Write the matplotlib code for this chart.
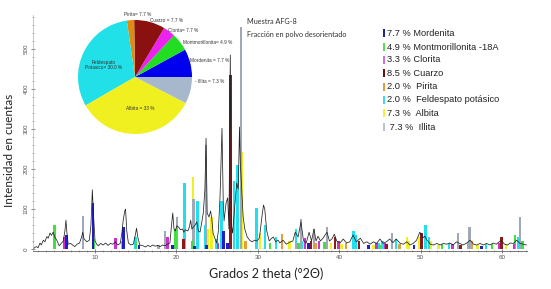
import matplotlib.pyplot as plt
from matplotlib.patches import Rectangle
from matplotlib.ticker import MultipleLocator

# black diffractogram (2theta, counts)
two_theta = [2.4, 2.6, 2.84, 3.0, 3.24, 3.4, 3.65, 3.85, 4.07, 4.25, 4.47, 4.65, 4.85, 5.05, 5.3,
             5.6, 5.85, 6.1, 6.3, 6.43, 6.55, 6.7, 7.0, 7.25, 7.5, 7.8, 8.1, 8.35, 8.5, 8.65,
             9.0, 9.3, 9.5, 9.67, 9.8, 10.0, 10.2, 10.4, 10.7, 11.0, 11.3, 11.6, 11.9, 12.2, 12.5,
             12.8, 13.1, 13.3, 13.45, 13.65, 13.75, 13.9, 14.1, 14.4, 14.7, 14.95, 15.1, 15.25, 15.5, 15.9,
             16.2, 16.5, 16.8, 17.1, 17.4, 17.7, 18.0, 18.3, 18.6, 18.9, 19.2, 19.4, 19.55, 19.7, 19.85,
             20.05, 20.25, 20.5, 20.75, 20.9, 21.1, 21.4, 21.6, 21.75, 21.9, 22.1, 22.3, 22.5, 22.7, 22.9,
             23.1, 23.3, 23.5, 23.64, 23.78, 24.0, 24.2, 24.35, 24.5, 24.75, 24.95, 25.15, 25.36, 25.6, 25.75,
             25.85, 26.1, 26.3, 26.45, 26.62, 26.75, 26.9, 27.2, 27.4, 27.6, 27.75, 27.85, 28.05, 28.2, 28.4,
             28.7, 29.0, 29.3, 29.6, 29.9, 30.2, 30.5, 30.7, 30.85, 31.1, 31.4, 31.6, 31.9, 32.2, 32.5,
             32.7, 33.1, 33.5, 34.0, 34.3, 34.6, 34.95, 35.3, 35.6, 35.95, 36.3, 36.6, 36.9, 37.15, 37.4,
             37.7, 38.0, 38.5, 38.8, 39.1, 39.4, 39.7, 40.1, 40.5, 40.9, 41.3, 41.7, 42.1, 42.6, 43.0,
             43.4, 43.8, 44.2, 44.6, 45.0, 45.4, 45.8, 46.2, 46.6, 47.0, 47.5, 47.9, 48.3, 48.7, 49.1,
             49.5, 49.9, 50.3, 50.5, 50.8, 51.2, 51.6, 52.0, 52.4, 52.8, 53.2, 53.6, 54.0, 54.4, 54.8,
             55.2, 55.6, 56.1, 56.5, 56.9, 57.3, 57.7, 58.1, 58.5, 58.9, 59.3, 59.9, 60.3, 60.7, 61.0,
             61.4, 61.8, 62.2, 62.6, 63.0]
counts = [0, 4, 6, 3, 15, 10, 22, 18, 31, 27, 40, 34, 42, 30, 22,
          8, 14, 20, 45, 72, 40, 12, 14, 10, 6, 12, 15, 30, 42, 25,
          18, 22, 60, 148, 90, 20, 12, 8, 14, 10, 15, 9, 14, 12, 18,
          10, 14, 40, 70, 95, 100, 45, 15, 10, 12, 35, 52, 30, 10, 8,
          5, 9, 6, 10, 7, 9, 6, 10, 8, 12, 15, 60, 90, 50, 45,
          58, 55, 48, 50, 42, 48, 45, 55, 72, 50, 55, 60, 68, 45, 42,
          65, 90, 150, 277, 90, 80, 95, 75, 40, 25, 15, 45, 131, 302, 120,
          70, 115, 128, 50, 485, 60, 40, 115, 165, 150, 305, 215, 140, 80, 50,
          30, 22, 18, 22, 20, 28, 80, 110, 100, 45, 20, 25, 30, 18, 22,
          15, 22, 12, 18, 20, 42, 30, 68, 22, 15, 42, 20, 50, 20, 32,
          20, 27, 42, 20, 25, 37, 20, 15, 25, 15, 18, 35, 18, 27, 14,
          18, 12, 18, 14, 25, 14, 18, 25, 16, 25, 14, 12, 18, 10, 14,
          22, 42, 28, 32, 22, 12, 10, 14, 10, 14, 12, 15, 10, 18, 14,
          10, 14, 22, 12, 10, 14, 10, 14, 10, 15, 12, 22, 12, 10, 15,
          14, 22, 14, 12, 10]

# identified phase peaks (position, height)
mordenita_pos = [6.5, 9.75, 13.5, 15.4, 19.5, 22.2, 23.7, 25.8, 26.3, 36.2, 43.6, 49.2, 57.5]
mordenita_h = [35, 115, 55, 10, 10, 8, 10, 45, 15, 15, 10, 10, 8]
montmor_pos = [5.0, 9.8, 15.0, 19.9, 22.0, 31.5, 35.0, 38.2, 45.0, 52.6, 58.8, 61.6, 62.5]
montmor_h = [60, 25, 20, 50, 20, 15, 15, 18, 10, 12, 12, 35, 20]
clorita_pos = [6.2, 12.5, 18.9, 25.1, 35.8, 37.5, 39.9, 44.6, 45.6, 53.9, 59.6, 61.5]
clorita_h = [30, 27, 30, 15, 28, 20, 20, 15, 15, 12, 15, 12]
cuarzo_pos = [20.85, 26.62, 36.5, 39.45, 42.4, 45.8, 50.1, 54.9, 59.95]
cuarzo_h = [25, 435, 20, 30, 20, 12, 40, 10, 30]
pirita_pos = [28.5, 33.0, 37.1, 40.8, 47.4, 56.3]
pirita_h = [20, 38, 15, 15, 12, 20]
feldk_pos = [13.4, 14.95, 21.0, 22.6, 23.5, 24.9, 25.55, 27.05, 27.5, 29.85, 30.85, 32.2, 34.7,
             35.5, 41.75, 42.0, 44.9, 45.3, 47.0, 50.6, 51.0, 53.5, 55.8, 58.0, 62.0]
feldk_h = [20, 30, 165, 120, 60, 25, 120, 170, 210, 102, 60, 30, 50,
           20, 45, 35, 15, 20, 25, 60, 30, 15, 15, 12, 30]
albita_pos = [22.05, 23.9, 24.3, 28.0, 30.3, 33.9, 35.7, 36.9, 39.0, 40.3, 42.3, 44.2, 48.3, 48.6,
              49.8, 51.3, 52.2, 57.0, 60.5]
albita_h = [180, 50, 80, 242, 40, 20, 25, 20, 15, 12, 20, 10, 30, 20,
            30, 20, 10, 10, 12]
illita_pos = [8.5, 17.8, 18.6, 20.1, 22.1, 23.64, 27.93, 34.9, 35.3, 36.9, 38.5, 46.5, 54.6, 56.0, 62.2]
illita_h = [82, 10, 45, 80, 125, 260, 555, 15, 75, 50, 55, 40, 40, 55, 80]

# pie
pie_values = [7.7, 4.9, 3.3, 8.5, 2.0, 30.0, 33.0, 7.3]
pie_colors = ['#0000ee', '#22dd22', '#ee22ee', '#8b1010', '#e08a10', '#22e0e8', '#f0f020', '#a8b8cc']
pie_labels = ['Mordenita = 7.7 %', 'Montmorillonita= 4.9 %', 'Clorita= 7.7 %', 'Cuarzo = 7.7 %',
              'Pirita= 7.7 %', 'Feldespato\nPotasico= 30.0 %', 'Albita = 33 %', '- Illita = 7.3 %']

# legend
legend_labels = ['7.7 % Mordenita', '4.9 % Montmorillonita -18A', '3.3 % Clorita', '8.5 % Cuarzo',
                 '2.0 %  Pirita', '2.0 %  Feldespato potásico', '7.3 %  Albita', ' 7.3 %  Illita']
legend_colors = ['#22229a', '#55dd55', '#d070d0', '#6b1010', '#e09a40', '#40d8ec', '#f5f040', '#b8c4d4']

W, H = 551, 289
fig = plt.figure(figsize=(W / 100, H / 100), dpi=100)


def fx(px):
    return px / W


def fy(py):
    return 1 - py / H


ax = fig.add_axes([fx(33), fy(251), (527 - 33) / W, (251 - 15) / H])

phases = [
    (feldk_pos, feldk_h, '#20e0f0'),
    (albita_pos, albita_h, '#f0f020'),
    (illita_pos, illita_h, '#a0a8b8'),
    (montmor_pos, montmor_h, '#40e040'),
    (clorita_pos, clorita_h, '#cc33cc'),
    (pirita_pos, pirita_h, '#e0a040'),
    (mordenita_pos, mordenita_h, '#1f1fc8'),
    (cuarzo_pos, cuarzo_h, '#8b1a1a'),
]
for pos, h, col in phases:
    ax.bar(pos, h, width=0.3, color=col, linewidth=0)

ax.plot(two_theta, counts, color='#222222', lw=0.55)

ax.set_xlim(2.38, 63.07)
ax.set_ylim(-5, 585)
for s in ['top', 'right']:
    ax.spines[s].set_visible(False)
ax.spines['left'].set_color('#b0b0b0')
ax.spines['left'].set_linewidth(0.5)
ax.spines['bottom'].set_color('#606060')
ax.spines['bottom'].set_linewidth(0.6)

ax.xaxis.set_major_locator(MultipleLocator(10))
ax.xaxis.set_minor_locator(MultipleLocator(1))
ax.yaxis.set_major_locator(MultipleLocator(100))
ax.yaxis.set_minor_locator(MultipleLocator(20))
ax.tick_params(axis='both', which='major', labelsize=4.5, labelcolor='#555555', color='#555555',
               length=3, width=0.5, direction='inout', pad=1.5)
ax.tick_params(axis='both', which='minor', color='#777777', length=1.5, width=0.4, direction='inout')
for lab in ax.get_yticklabels():
    lab.set_rotation(90)
    lab.set_va('center')
for lab in ax.get_xticklabels() + ax.get_yticklabels():
    lab.set_fontfamily('Liberation Sans')

fig.text(fx(266), fy(274), 'Grados 2 theta (°2Θ)', family='Lato', fontsize=9,
         ha='center', va='center', color='#222222')
fig.text(fx(10), fy(150), 'Intensidad en cuentas', family='Lato', fontsize=8.5,
         rotation=90, ha='center', va='center', color='#222222')

fig.text(fx(247), fy(22), 'Muestra AFG-8', family='Lato', fontsize=5.2,
         ha='left', va='center', color='#333333')
fig.text(fx(247), fy(34), 'Fracción en polvo desorientado', family='Lato', fontsize=5.2,
         ha='left', va='center', color='#333333')

# pie inset
axp = fig.add_axes([fx(78), fy(134), 114 / W, 114 / H])
axp.pie(pie_values, colors=pie_colors, startangle=0, counterclock=True,
        wedgeprops=dict(linewidth=0))
axp.set_xlim(-1, 1)
axp.set_ylim(-1, 1)

label_xy = [(210, 61), (208, 42), (183, 30), (166, 21), (138, 15), (104, 65), (140, 108), (210, 81)]
for txt, (px, py) in zip(pie_labels, label_xy):
    fig.text(fx(px), fy(py), txt, family='Liberation Sans', fontsize=3.4,
             ha='center', va='center', color='#333333', linespacing=1.0)

# legend
row_y = [33, 47, 60, 73, 87, 100, 113, 127]
for i, (txt, col) in enumerate(zip(legend_labels, legend_colors)):
    py = row_y[i]
    fig.add_artist(Rectangle((fx(383), fy(py + 4)), 2.2 / W, 8 / H, transform=fig.transFigure,
                             facecolor=col, edgecolor='none'))
    fig.text(fx(387), fy(py), txt, family='Liberation Sans', fontsize=6.7,
             ha='left', va='center', color='#222222')

fig.savefig('out.png', dpi=100)
